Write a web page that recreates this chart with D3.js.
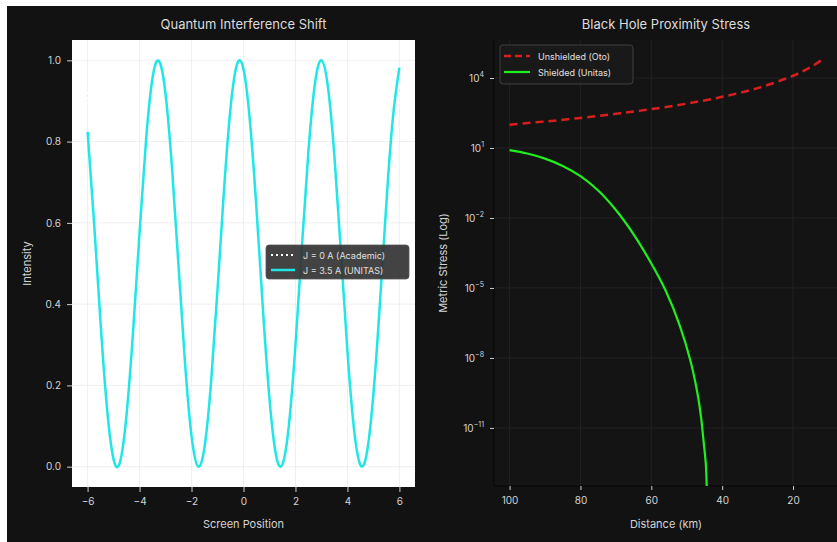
<!DOCTYPE html>
<html><head><meta charset="utf-8">
<script src="https://cdn.jsdelivr.net/npm/d3@7"></script>
<style>body{margin:0;background:#fff}svg{display:block;font-family:Inter,"DejaVu Sans",sans-serif}</style>
</head><body><svg id="c" width="837" height="542"></svg>
<script>
// ---- Left panel data ----
const screenX = [-6,-5.75,-5.5,-5.25,-5,-4.75,-4.5,-4.25,-4,-3.75,-3.5,-3.25,-3,-2.75,-2.5,-2.25,-2,-1.75,-1.5,-1.25,-1,-0.75,-0.5,-0.25,0,0.25,0.5,0.75,1,1.25,1.5,1.75,2,2.25,2.5,2.75,3,3.25,3.5,3.75,4,4.25,4.5,4.75,5,5.25,5.5,5.75,6];
const unitasIntensity = [0.824,0.60,0.354,0.142,0.018,0.012,0.129,0.332,0.577,0.804,0.957,0.998,0.917,0.734,0.494,0.255,0.076,0.001,0.048,0.206,0.436,0.681,0.882,0.990,0.978,0.848,0.634,0.386,0.167,0.029,0.006,0.104,0.300,0.544,0.777,0.943,1.000,0.934,0.763,0.527,0.284,0.094,0.004,0.035,0.179,0.402,0.650,0.859,0.982];
const academicX = [-6,-5.5,-5,-4.5,-4,-3.5,-3,-2.5,-2,-1.5,-1,-0.5,0,0.5,1,1.5,2,2.5,3,3.5,4,4.5,5,5.5,6];
const academicIntensity = [0.922,0.502,0.080,0.045,0.427,0.877,0.980,0.642,0.173,0.005,0.292,0.770,1.0,0.770,0.292,0.005,0.173,0.642,0.980,0.877,0.427,0.045,0.080,0.502,0.922];
const leftXTicks = [-6,-4,-2,0,2,4,6];
const leftYTicks = [0,0.2,0.4,0.6,0.8,1.0];

// ---- Right panel data ----
const distUnshielded = [100,90,80,70,60,50,40,30,20,15,12];
const stressUnshielded = [100,137,195,292,463,800,1563,3704,12500,29600,57900];
const distShielded = [100,95,90,85,80,75,70,65,60,56,52,49,47,46,45.3,44.6,44.3,44.1];
const stressShielded = [8.13,5.8,3.5,1.7,0.62,0.15,0.022,2.0e-3,1.12e-4,7.94e-6,2.51e-7,7.94e-9,3.16e-10,3.16e-11,3.16e-12,2.51e-13,1e-14,1e-16];
const rightXTicks = [100,80,60,40,20];
const rightYExp = [4,1,-2,-5,-8,-11];

const svg = d3.select("#c");
svg.append("rect").attr("x",7).attr("y",6).attr("width",830).attr("height",536).attr("fill","#121212");

const txt = "#d4d4d4";

// ================= LEFT =================
const L = {l:72,r:415,t:40,b:487};
const xL = d3.scaleLinear().domain([-6.6,6.6]).range([L.l,L.r]);
const yL = d3.scaleLinear().domain([-0.05,1.05]).range([L.b,L.t]);
const gL = svg.append("g");
gL.append("rect").attr("x",L.l).attr("y",L.t).attr("width",L.r-L.l).attr("height",L.b-L.t).attr("fill","#ffffff");
gL.append("g").selectAll("line").data(leftXTicks).join("line")
  .attr("x1",d=>xL(d)).attr("x2",d=>xL(d)).attr("y1",L.t).attr("y2",L.b).attr("stroke","#ebebeb").attr("stroke-width",0.8);
gL.append("g").selectAll("line").data(leftYTicks).join("line")
  .attr("y1",d=>yL(d)).attr("y2",d=>yL(d)).attr("x1",L.l).attr("x2",L.r).attr("stroke","#ebebeb").attr("stroke-width",0.8);

const axXL = gL.append("g").attr("transform",`translate(0,${L.b})`).call(d3.axisBottom(xL).tickValues(leftXTicks).tickSize(5).tickPadding(6).tickFormat(d3.format("d")));
const axYL = gL.append("g").attr("transform",`translate(${L.l},0)`).call(d3.axisLeft(yL).tickValues(leftYTicks).tickSize(5).tickPadding(6).tickFormat(d3.format(".1f")));
[axXL,axYL].forEach(a=>{a.select(".domain").remove();a.selectAll("line").attr("stroke","#cfcfcf");a.selectAll("text").attr("fill",txt).attr("font-size",10).attr("font-family","Inter,sans-serif");});

const lineL = d3.line().x(d=>xL(d[0])).y(d=>yL(d[1])).curve(d3.curveNatural);
gL.append("path").datum(d3.zip(academicX,academicIntensity)).attr("d",lineL).attr("fill","none").attr("stroke","#ffffff").attr("stroke-width",2).attr("stroke-dasharray","2,3");
gL.append("path").datum(d3.zip(screenX,unitasIntensity)).attr("d",lineL).attr("fill","none").attr("stroke","#22e6e6").attr("stroke-width",2.5);

svg.append("text").attr("x",(L.l+L.r)/2).attr("y",29).attr("text-anchor","middle").attr("fill","#dcdcdc").attr("font-size",13).text("Quantum Interference Shift");
svg.append("text").attr("x",(L.l+L.r)/2).attr("y",528).attr("text-anchor","middle").attr("fill",txt).attr("font-size",11).text("Screen Position");
svg.append("text").attr("transform",`translate(31,${(L.t+L.b)/2}) rotate(-90)`).attr("text-anchor","middle").attr("fill",txt).attr("font-size",11).text("Intensity");

// left legend
const lg = svg.append("g").attr("transform","translate(266,245)");
lg.append("rect").attr("width",143).attr("height",34).attr("rx",3).attr("fill","#333333").attr("fill-opacity",0.92).attr("stroke","#555").attr("stroke-width",0.8);
lg.append("line").attr("x1",5).attr("x2",29).attr("y1",10).attr("y2",10).attr("stroke","#fff").attr("stroke-width",2).attr("stroke-dasharray","2,3");
lg.append("line").attr("x1",5).attr("x2",29).attr("y1",25).attr("y2",25).attr("stroke","#22e6e6").attr("stroke-width",2.5);
lg.append("text").attr("x",37).attr("y",13.5).attr("fill","#e0e0e0").attr("font-size",9).text("J = 0 A (Academic)");
lg.append("text").attr("x",37).attr("y",28.5).attr("fill","#e0e0e0").attr("font-size",9).text("J = 3.5 A (UNITAS)");

// ================= RIGHT =================
const R = {l:494,r:837,t:40,b:486};
const xR = d3.scaleLinear().domain([104.4,7.6]).range([R.l,R.r]);
const yR = d3.scaleLog().domain([Math.pow(10,-13.49),Math.pow(10,5.63)]).range([R.b,R.t]);
const gR = svg.append("g");
svg.append("clipPath").attr("id","clipR").append("rect").attr("x",R.l).attr("y",R.t).attr("width",R.r-R.l).attr("height",R.b-R.t);
gR.append("rect").attr("x",R.l).attr("y",R.t).attr("width",R.r-R.l).attr("height",R.b-R.t).attr("fill","#141414");
const yTickVals = rightYExp.map(e=>Math.pow(10,e));
gR.append("g").selectAll("line").data(rightXTicks).join("line")
  .attr("x1",d=>xR(d)).attr("x2",d=>xR(d)).attr("y1",R.t).attr("y2",R.b).attr("stroke","#262626").attr("stroke-width",0.8);
gR.append("g").selectAll("line").data(yTickVals).join("line")
  .attr("y1",d=>yR(d)).attr("y2",d=>yR(d)).attr("x1",R.l).attr("x2",R.r).attr("stroke","#262626").attr("stroke-width",0.8);
gR.append("line").attr("x1",R.l).attr("x2",R.l).attr("y1",R.t).attr("y2",R.b).attr("stroke","#050505").attr("stroke-width",1);
gR.append("line").attr("x1",R.l).attr("x2",R.r).attr("y1",R.b).attr("y2",R.b).attr("stroke","#050505").attr("stroke-width",1);

const axXR = gR.append("g").attr("transform",`translate(0,${R.b})`).call(d3.axisBottom(xR).tickValues(rightXTicks).tickSize(4).tickPadding(7).tickFormat(d3.format("d")));
const axYR = gR.append("g").attr("transform",`translate(${R.l},0)`).call(d3.axisLeft(yR).tickValues(yTickVals).tickSize(4).tickPadding(6).tickFormat(()=>""));
[axXR,axYR].forEach(a=>{a.select(".domain").remove();a.selectAll("line").attr("stroke","#cfcfcf");a.selectAll("text").attr("fill",txt).attr("font-size",10).attr("font-family","Inter,sans-serif");});
axYR.selectAll(".tick text").each(function(d,i){
  const t = d3.select(this);
  t.text(null);
  t.append("tspan").text("10");
  t.append("tspan").attr("dy",-5).attr("font-size",7).text(d3.format("d")(rightYExp[i]));
});

const lineR = d3.line().x(d=>xR(d[0])).y(d=>yR(d[1])).curve(d3.curveCatmullRom);
const plotR = gR.append("g").attr("clip-path","url(#clipR)");
plotR.append("path").datum(d3.zip(distUnshielded,stressUnshielded)).attr("d",lineR).attr("fill","none").attr("stroke","#d91e1e").attr("stroke-width",2.5).attr("stroke-dasharray","8,5");
plotR.append("path").datum(d3.zip(distShielded,stressShielded)).attr("d",lineR).attr("fill","none").attr("stroke","#1ef01e").attr("stroke-width",2.2);

svg.append("text").attr("x",666).attr("y",29).attr("text-anchor","middle").attr("fill","#dcdcdc").attr("font-size",13).text("Black Hole Proximity Stress");
svg.append("text").attr("x",666).attr("y",528).attr("text-anchor","middle").attr("fill",txt).attr("font-size",11).text("Distance (km)");
svg.append("text").attr("transform",`translate(447,${(R.t+R.b)/2}) rotate(-90)`).attr("text-anchor","middle").attr("fill",txt).attr("font-size",11).text("Metric Stress (Log)");

// right legend
const rg = svg.append("g").attr("transform","translate(500,45)");
rg.append("rect").attr("width",133).attr("height",39).attr("rx",3).attr("fill","#1a1a1a").attr("fill-opacity",0.9).attr("stroke","#4a4a4a").attr("stroke-width",0.8);
rg.append("line").attr("x1",4).attr("x2",30).attr("y1",11).attr("y2",11).attr("stroke","#d91e1e").attr("stroke-width",2.5).attr("stroke-dasharray","7,4");
rg.append("line").attr("x1",4).attr("x2",30).attr("y1",27).attr("y2",27).attr("stroke","#1ef01e").attr("stroke-width",2.2);
rg.append("text").attr("x",38).attr("y",14.5).attr("fill","#e0e0e0").attr("font-size",9).text("Unshielded (Oto)");
rg.append("text").attr("x",38).attr("y",30.5).attr("fill","#e0e0e0").attr("font-size",9).text("Shielded (Unitas)");
</script></body></html>
